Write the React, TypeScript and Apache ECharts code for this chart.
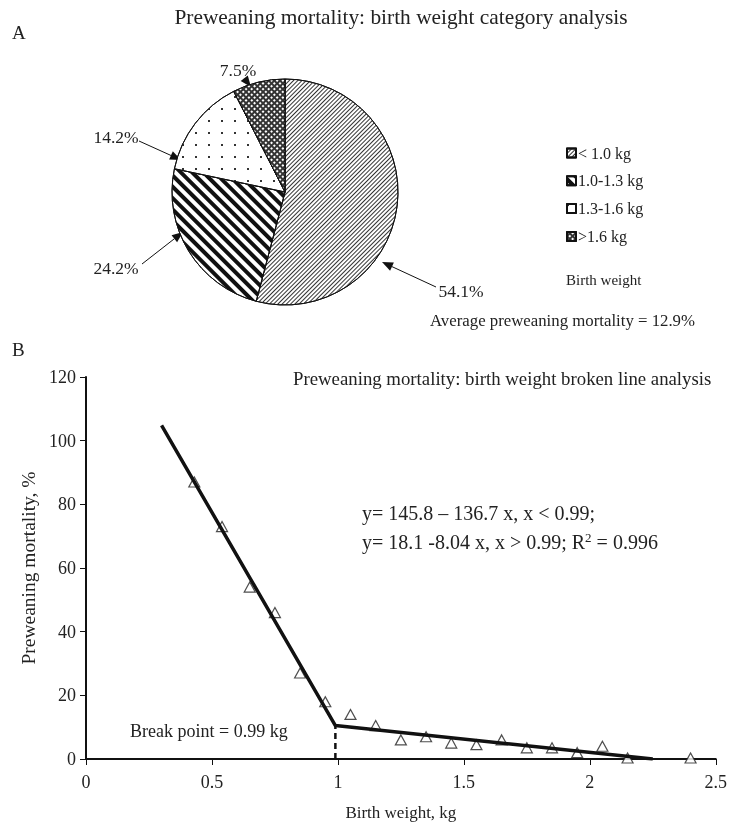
import React, { useEffect, useRef } from "react";
import * as echarts from "echarts";

// ---- Data ----
const pieCategories = ["< 1.0 kg", "1.0-1.3 kg", "1.3-1.6 kg", ">1.6 kg"];
const pieValues = [54.1, 24.2, 14.2, 7.5];

const obsX = [0.43, 0.54, 0.65, 0.75, 0.85, 0.95, 1.05, 1.15, 1.25, 1.35, 1.45, 1.55, 1.65, 1.75, 1.85, 1.95, 2.05, 2.15, 2.4];
const obsY = [87, 73, 54, 46, 27, 18, 14, 10.5, 6, 7, 5, 4.5, 6, 3.5, 3.5, 2, 4, 0.3, 0.3];

const fitX = [0.3, 0.99, 2.25];
const fitY = [104.8, 10.5, 0];
const breakX = 0.99;
const breakY = 10.5;

const xTicks = [0, 0.5, 1, 1.5, 2, 2.5];
const yTicks = [0, 20, 40, 60, 80, 100, 120];

const FONT = "Liberation Serif";
const TXT = "#222";

function arrow(x1: number, y1: number, x2: number, y2: number) {
  const ang = Math.atan2(y2 - y1, x2 - x1);
  const L = 11, W = 4.5;
  const bx = x2 - L * Math.cos(ang), by = y2 - L * Math.sin(ang);
  const px = -Math.sin(ang) * W, py = Math.cos(ang) * W;
  return [
    { type: "line", shape: { x1, y1, x2: bx, y2: by }, style: { stroke: "#111", lineWidth: 1 } },
    { type: "polygon", shape: { points: [[x2, y2], [bx + px, by + py], [bx - px, by - py]] }, style: { fill: "#111" } },
  ];
}

export default function App() {
  const ref = useRef<HTMLDivElement>(null);
  useEffect(() => {
    const chart = echarts.init(ref.current!, null, { renderer: "svg" });
    const decals: any[] = [
      { symbol: "rect", symbolSize: 1, color: "#333", dashArrayX: [1, 0], dashArrayY: [1, 2], rotation: -Math.PI / 4 },
      { symbol: "rect", symbolSize: 1, color: "#111", dashArrayX: [1, 0], dashArrayY: [3.5, 3.5], rotation: Math.PI / 4 },
      { symbol: "rect", symbolSize: 1, color: "#333", dashArrayX: [1.5, 11], dashArrayY: [1.5, 10] },
      { symbol: "rect", symbolSize: 1, color: "#fff", dashArrayX: [1.5, 1.5], dashArrayY: [1.5, 1.5], rotation: Math.PI / 4 },
    ];
    const fills = ["#fff", "#fff", "#fff", "#333"];
    const labelPos = [
      [461, 291],
      [116, 268],
      [116, 137],
      [238, 70],
    ];

    chart.setOption({
      animation: false,
      textStyle: { fontFamily: FONT },
      legend: {
        orient: "vertical",
        left: 561,
        top: 140,
        itemWidth: 9,
        itemHeight: 9,
        itemGap: 11.8,
        icon: "rect",
        data: pieCategories,
        textStyle: { fontFamily: FONT, fontSize: 16, color: TXT, padding: [0, 0, 0, -3] },
      },
      grid: { left: 86, right: 12, top: 377, bottom: 73, containLabel: false },
      xAxis: {
        type: "value",
        min: xTicks[0],
        max: xTicks[xTicks.length - 1],
        interval: 0.5,
        name: "Birth weight, kg",
        nameLocation: "middle",
        nameGap: 45,
        nameTextStyle: { fontFamily: FONT, fontSize: 17, color: TXT },
        axisLine: { lineStyle: { color: "#111", width: 2 } },
        axisTick: { show: true, length: 6, lineStyle: { color: "#111", width: 1 } },
        axisLabel: { fontFamily: FONT, fontSize: 18, color: TXT, margin: 14 },
        splitLine: { show: false },
      },
      yAxis: {
        type: "value",
        min: yTicks[0],
        max: yTicks[yTicks.length - 1],
        interval: 20,
        name: "Preweaning mortality, %",
        nameLocation: "middle",
        nameGap: 43,
        nameTextStyle: { fontFamily: FONT, fontSize: 19.5, color: TXT },
        axisLine: { show: true, lineStyle: { color: "#111", width: 2 } },
        axisTick: { show: true, length: 6, lineStyle: { color: "#111", width: 1 } },
        axisLabel: { fontFamily: FONT, fontSize: 18, color: TXT, margin: 10 },
        splitLine: { show: false },
      },
      series: [
        {
          type: "pie",
          center: [285, 192],
          radius: 113,
          startAngle: 90,
          clockwise: true,
          percentPrecision: 1,
          label: {
            show: true,
            formatter: (p: any) => `${p.value}%`,
            fontFamily: FONT,
            fontSize: 17.5,
            color: TXT,
          },
          labelLine: { show: false },
          labelLayout: (p: any) => ({
            x: labelPos[p.dataIndex][0],
            y: labelPos[p.dataIndex][1],
            align: "center",
            verticalAlign: "middle",
          }),
          emphasis: { disabled: true },
          data: pieCategories.map((name, i) => ({
            name,
            value: pieValues[i],
            itemStyle: { color: fills[i], borderColor: "#111", borderWidth: 1, decal: decals[i] },
          })),
        },
        {
          type: "scatter",
          symbol: "triangle",
          symbolSize: [11, 10],
          itemStyle: { color: "#fff", borderColor: "#222", borderWidth: 1.2 },
          data: obsX.map((x, i) => [x, obsY[i]]),
          z: 2,
        },
        {
          type: "line",
          data: fitX.map((x, i) => [x, fitY[i]]),
          symbol: "none",
          lineStyle: { color: "#111", width: 3.5 },
          z: 3,
        },
        {
          type: "line",
          data: [[breakX, 0], [breakX, breakY]],
          symbol: "none",
          lineStyle: { color: "#111", width: 2.5, type: [6, 4] },
          z: 3,
        },
      ],
      graphic: [
        { type: "text", left: 12, top: 23, style: { text: "A", font: `19px ${FONT}`, fill: TXT } },
        { type: "text", x: 401, y: 17, style: { text: "Preweaning mortality: birth weight category analysis", font: `21.4px ${FONT}`, fill: TXT, align: "center", verticalAlign: "middle" } },
        { type: "text", left: 566, top: 272, style: { text: "Birth weight", font: `15px ${FONT}`, fill: TXT } },
        { type: "text", left: 430, top: 312, style: { text: "Average preweaning mortality = 12.9%", font: `16.8px ${FONT}`, fill: TXT } },
        { type: "text", left: 12, top: 340, style: { text: "B", font: `19px ${FONT}`, fill: TXT } },
        { type: "text", left: 293, top: 369, style: { text: "Preweaning mortality: birth weight broken line analysis", font: `18.8px ${FONT}`, fill: TXT } },
        { type: "text", left: 362, top: 503, style: { text: "y= 145.8 – 136.7 x, x < 0.99;", font: `20px ${FONT}`, fill: TXT } },
        {
          type: "text",
          left: 362,
          top: 531,
          style: {
            text: "{a|y= 18.1 -8.04 x, x > 0.99; R}{s|2}{a| = 0.996}",
            rich: {
              a: { font: `20px ${FONT}`, fill: TXT, color: TXT },
              s: { font: `13px ${FONT}`, fill: TXT, color: TXT, verticalAlign: "top", padding: [0, 0, 9, 0] },
            },
          },
        },
        { type: "text", left: 130, top: 722, style: { text: "Break point = 0.99 kg", font: `18px ${FONT}`, fill: TXT } },
        ...arrow(436, 287, 382, 262),
        ...arrow(142, 264, 183, 232),
        ...arrow(139, 141, 181, 160),
        ...arrow(244, 78, 251, 87),
      ],
    });
    return () => chart.dispose();
  }, []);
  return <div ref={ref} style={{ position: "fixed", left: 0, top: 0, width: 730, height: 832 }} />;
}
